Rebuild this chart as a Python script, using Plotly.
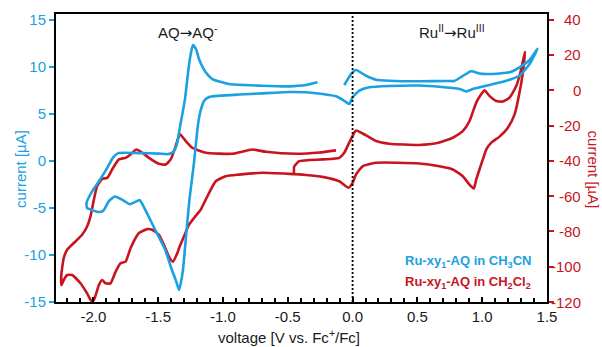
import plotly.graph_objects as go

BLUE = "#1BA0E2"
RED = "#C8141E"
FONT = "Liberation Sans, Arial, sans-serif"

# ---------------- data (V vs Fc+/Fc, current in uA) ----------------
# Ru-xy1-AQ in CH3CN (left axis), three scan branches
blue_a_v = [-0.064, -0.012, 0.026, 0.104, 0.181, 0.284, 0.515, 0.747, 0.786, 0.848, 0.915, 0.979, 1.033, 1.134, 1.211, 1.288, 1.366, 1.427]
blue_a_i = [8.05, 9.22, 9.65, 9.04, 8.62, 8.51, 8.45, 8.48, 8.48, 9.0, 9.51, 9.28, 9.22, 9.28, 9.40, 9.94, 10.71, 11.9]

blue_b_v = [1.366, 1.288, 1.211, 1.134, 1.031, 0.94, 0.876, 0.825, 0.670, 0.515, 0.284, 0.129, 0.052, 0.0, -0.026, -0.064,
            -0.128, -0.232, -0.36, -0.489, -0.698, -0.876, -1.03, -1.107, -1.146, -1.173, -1.192, -1.223, -1.258, -1.280,
            -1.308, -1.324, -1.339, -1.366, -1.396, -1.447, -1.525, -1.602, -1.641, -1.68, -1.718, -1.772, -1.834, -1.88,
            -1.924, -1.965, -2.014, -2.048, -2.053]
blue_b_i = [10.29, 9.04, 8.62, 8.32, 7.98, 7.68, 7.38, 7.63, 7.87, 8.0, 7.95, 7.81, 7.45, 6.74, 6.03, 6.38,
            6.85, 7.10, 7.28, 7.31, 7.17, 7.04, 6.91, 6.78, 6.35, 5.29, 3.90, -0.14, -4.07, -7.27,
            -11.52, -12.9, -13.72, -12.6, -11.52, -9.39, -7.27, -5.14, -4.18, -4.39, -4.61, -4.18, -3.79, -4.29,
            -5.32, -5.43, -5.21, -5.03, -4.5]

blue_c_v = [-2.014, -1.963, -1.898, -1.847, -1.808, -1.654, -1.494, -1.422, -1.383, -1.355, -1.339, -1.293, -1.266,
            -1.244, -1.231, -1.208, -1.185, -1.133, -1.082, -0.953, -0.698, -0.489, -0.36, -0.27]
blue_c_i = [-3.36, -2.30, -0.88, 0.36, 0.82, 0.82, 0.77, 0.71, 0.96, 1.78, 3.02, 6.56, 9.76,
            11.67, 12.31, 11.88, 10.82, 9.40, 8.69, 8.16, 7.98, 7.91, 8.05, 8.34]

# Ru-xy1-AQ in CH2Cl2 (right axis), three scan branches
red_a_v = [-0.451, -0.451, -0.412, -0.232, -0.103, -0.064, -0.026, 0.002, 0.026, 0.104, 0.181, 0.284, 0.515, 0.645,
           0.773, 0.850, 0.902, 0.954, 0.992, 1.018, 1.056, 1.108, 1.159, 1.211, 1.263, 1.301, 1.33]
red_a_i = [-47.8, -43.4, -40.2, -39.2, -38.3, -35.4, -29.7, -25.6, -22.8, -25.6, -28.8, -30.3, -31.0, -30.1,
           -26.9, -23.2, -17.5, -7.0, -2.3, 0.0, -3.2, -6.1, -6.4, -4.2, 2.4, 11.9, 21.8]

red_b_v = [1.314, 1.288, 1.250, 1.198, 1.134, 1.070, 1.031, 1.005, 0.979, 0.954, 0.935, 0.902, 0.850, 0.773, 0.670,
           0.515, 0.181, 0.077, 0.026, 0.0, -0.031, -0.103, -0.232, -0.360, -0.489, -0.696, -0.876, -0.978, -1.056,
           -1.094, -1.133, -1.172, -1.223, -1.262, -1.301, -1.339, -1.352, -1.386, -1.417, -1.455, -1.494, -1.546,
           -1.584, -1.648, -1.713, -1.751, -1.790, -1.828, -1.867, -1.906, -1.932, -1.957, -1.996, -2.014, -2.048,
           -2.099, -2.164, -2.202, -2.228, -2.246]
red_b_i = [10.1, -1.3, -13.7, -21.2, -26.3, -29.7, -33.6, -39.2, -44.9, -50.6, -55.7, -53.5, -48.7, -44.9, -43.1,
           -41.5, -41.1, -43.1, -47.8, -52.5, -55.3, -51.6, -49.1, -48.0, -47.4, -46.8, -47.8, -48.7, -51.6,
           -56.3, -62.0, -67.7, -72.4, -76.2, -82.9, -89.5, -92.3, -97.1, -94.3, -87.6, -81.9, -79.1,
           -78.7, -80.9, -89.5, -97.1, -98.0, -102.8, -109.4, -109.4, -107.5, -110.4, -118.9, -119.5, -115.1,
           -109.4, -104.7, -104.7, -107.5, -110.4]

red_c_v = [-2.247, -2.228, -2.202, -2.138, -2.087, -2.048, -2.022, -1.996, -1.971, -1.932, -1.893, -1.855, -1.803,
           -1.751, -1.713, -1.669, -1.623, -1.571, -1.494, -1.442, -1.403, -1.365, -1.332, -1.287, -1.236, -1.133,
           -0.927, -0.773, -0.669, -0.437, -0.257, -0.128]
red_c_i = [-104.7, -95.0, -90.4, -85.7, -81.9, -77.2, -71.5, -62.0, -54.4, -50.2, -49.7, -44.9, -39.2,
           -38.3, -36.4, -33.6, -35.4, -38.3, -41.7, -42.1, -39.2, -31.7, -25.0, -28.8, -32.6, -35.4,
           -36.0, -33.6, -34.9, -36.0, -35.3, -34.1]

x_ticks = [-2.0, -1.5, -1.0, -0.5, 0.0, 0.5, 1.0, 1.5]
x_labels = ["-2.0", "-1.5", "-1.0", "-0.5", "0.0", "0.5", "1.0", "1.5"]
left_ticks = [-15, -10, -5, 0, 5, 10, 15]
left_labels = ["-15", "-10", "-5", "0", "5", "10", "15"]
right_ticks = [-120, -100, -80, -60, -40, -20, 0, 20, 40]
right_labels = ["-120", "-100", "-80", "-60", "-40", "-20", "0", "20", "40"]

blue_v = blue_a_v + blue_b_v + blue_c_v
blue_i = blue_a_i + blue_b_i + blue_c_i
red_v = red_a_v + red_b_v + red_c_v
red_i = red_a_i + red_b_i + red_c_i

fig = go.Figure()
fig.add_trace(go.Scatter(x=red_v, y=red_i, mode="lines", yaxis="y", showlegend=False,
                         line=dict(color=RED, width=2.6, shape="spline", smoothing=0.5)))
fig.add_trace(go.Scatter(x=blue_v, y=blue_i, mode="lines", yaxis="y2", showlegend=False,
                         line=dict(color=BLUE, width=2.6, shape="spline", smoothing=0.5)))

fig.add_shape(type="line", x0=0, x1=0, y0=0, y1=1, xref="x", yref="paper",
              line=dict(color="black", width=1.8, dash="2px,2px"))

fig.update_layout(
    width=602, height=347,
    margin=dict(l=56, r=55, t=14, b=45),
    paper_bgcolor="white", plot_bgcolor="white",
    font=dict(family=FONT, size=15, color="#1a1a1a"),
    xaxis=dict(range=[-2.288, 1.5], tickvals=x_ticks, ticktext=x_labels,
               ticks="inside", ticklen=5, tickwidth=1.5, tickcolor="black",
               minor=dict(dtick=0.1, tick0=0, ticks="inside", ticklen=4, tickwidth=1.5, tickcolor="black"),
               showline=True, linewidth=2, linecolor="black", mirror=True,
               showgrid=False, zeroline=False, tickfont=dict(size=15, color="#1a1a1a")),
    yaxis=dict(range=[-120, 43.2], side="right", tickvals=right_ticks, showticklabels=False,
               ticks="outside", ticklen=5, tickwidth=2, tickcolor=RED,
               showline=True, linewidth=2, linecolor="black",
               showgrid=False, zeroline=False),
    yaxis2=dict(range=[-15, 15.6], side="left", overlaying="y", tickvals=left_ticks, ticktext=left_labels,
                ticks="outside", ticklen=5, tickwidth=2, tickcolor=BLUE,
                showline=True, linewidth=2, linecolor="black",
                showgrid=False, zeroline=False, tickfont=dict(size=15, color=BLUE)),
)

ARROW = '<span style="font-family:DejaVu Sans">→</span>'

annotations = []
for val, lab in zip(right_ticks, right_labels):
    annotations.append(dict(x=1, xref="paper", xshift=36, xanchor="right", y=val, yref="y",
                            yanchor="middle", text=lab, showarrow=False,
                            font=dict(size=15, color=RED)))

annotations += [
    dict(x=-0.0713, y=0.462, xref="paper", yref="paper", text="current [µA]", textangle=-90,
         showarrow=False, xanchor="center", yanchor="middle", font=dict(size=15, color=BLUE)),
    dict(x=1.0947, y=0.458, xref="paper", yref="paper", text="current [µA]", textangle=90,
         showarrow=False, xanchor="center", yanchor="middle", font=dict(size=15, color=RED)),
    dict(x=0.474, y=-0.121, xref="paper", yref="paper", text="voltage [V vs. Fc<sup>+</sup>/Fc]",
         showarrow=False, xanchor="center", yanchor="middle", font=dict(size=15, color="#1a1a1a")),
    dict(x=0.269, y=0.939, xref="paper", yref="paper", text="AQ" + ARROW + "AQ<sup>-</sup>",
         showarrow=False, xanchor="center", yanchor="middle", font=dict(size=15, color="#1a1a1a")),
    dict(x=0.807, y=0.939, xref="paper", yref="paper", text="Ru<sup>II</sup>" + ARROW + "Ru<sup>III</sup>",
         showarrow=False, xanchor="center", yanchor="middle", font=dict(size=15, color="#1a1a1a")),
    dict(x=0.7067, y=0.139, xref="paper", yref="paper", text="<b>Ru-xy<sub>1</sub>-AQ in CH<sub>3</sub>CN</b>",
         showarrow=False, xanchor="left", yanchor="middle", font=dict(size=13, color=BLUE)),
    dict(x=0.7067, y=0.066, xref="paper", yref="paper", text="<b>Ru-xy<sub>1</sub>-AQ in CH<sub>2</sub>Cl<sub>2</sub></b>",
         showarrow=False, xanchor="left", yanchor="middle", font=dict(size=13, color=RED)),
]
fig.update_layout(annotations=annotations)

fig.write_html("out.html")
